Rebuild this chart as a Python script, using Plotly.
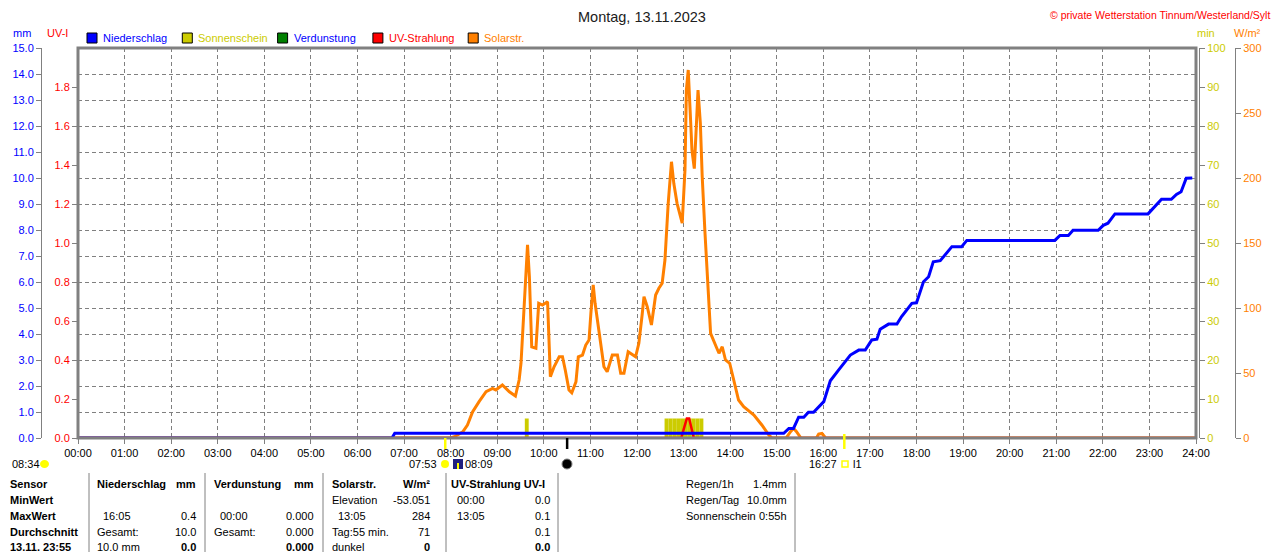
import plotly.graph_objects as go

FONT = "Liberation Sans, Arial, sans-serif"
GRAY = "#808080"
# the page puts the figure 8px in from the top-left corner of the window
OFF = 8
W, H = 1280 - OFF, 552 - OFF

# x axis: hours of the day
hour_ticks = list(range(25))
hour_labels = [f"{h:02d}:00" for h in hour_ticks]

# Niederschlag, cumulative mm
rain_h = [0, 6.74, 6.80, 15.15, 15.26, 15.36, 15.47, 15.58, 15.68, 15.79, 16.01, 16.15,
          16.33, 16.58, 16.76, 16.90, 17.04, 17.15, 17.22, 17.40, 17.58, 17.68, 17.90,
          18.00, 18.15, 18.26, 18.36, 18.51, 18.76, 18.97, 19.08, 20.97, 21.08, 21.26,
          21.36, 21.90, 22.01, 22.11, 22.26, 22.97, 23.26, 23.47, 23.58, 23.68, 23.79, 23.92]
rain_mm = [0, 0, 0.18, 0.18, 0.37, 0.37, 0.80, 0.80, 0.99, 0.99, 1.40, 2.20,
           2.62, 3.19, 3.38, 3.38, 3.77, 3.80, 4.18, 4.38, 4.38, 4.67, 5.18,
           5.20, 6.01, 6.20, 6.78, 6.82, 7.36, 7.36, 7.60, 7.60, 7.79, 7.79,
           7.99, 7.99, 8.18, 8.26, 8.62, 8.62, 9.18, 9.18, 9.37, 9.47, 9.99, 10.0]

# Solarstrahlung W/m2
solar_h = [0, 8.00, 8.08, 8.26, 8.36, 8.47, 8.61, 8.76, 8.90, 8.97, 9.11, 9.26, 9.39, 9.47,
           9.51, 9.58, 9.61, 9.65, 9.69, 9.74, 9.83, 9.89, 9.97, 10.08, 10.14, 10.22, 10.33,
           10.40, 10.46, 10.54, 10.60, 10.69, 10.74, 10.83, 10.90, 10.97, 11.01, 11.06, 11.10,
           11.19, 11.29, 11.36, 11.47, 11.58, 11.65, 11.72, 11.81, 11.97, 12.04, 12.11, 12.15,
           12.22, 12.31, 12.40, 12.47, 12.54, 12.60, 12.67, 12.74, 12.79, 12.86, 12.97, 13.03,
           13.06, 13.10, 13.14, 13.18, 13.23, 13.26, 13.31, 13.36, 13.40, 13.46, 13.51, 13.58,
           13.70, 13.76, 13.83, 13.90, 13.99, 14.08, 14.18, 14.29, 14.51, 14.68, 14.83, 14.90,
           15.20, 15.30, 15.36, 15.42, 15.52, 15.85, 15.90, 15.97, 16.05, 24]
solar_wm2 = [0, 0, 1, 4.8, 10, 20, 28, 35.6, 38.2, 36.9, 40.8, 35.6, 32.3, 44.6,
             57.5, 101, 123, 148.5, 124, 70, 69, 103.6, 102.3, 104.8, 47.2, 54.8, 62.5,
             62.5, 52.3, 36.9, 34.8, 43.3, 62.5, 63.8, 71.5, 75.4, 95.9, 117.7, 103.6,
             80.5, 54.8, 51, 63.8, 63.8, 49.8, 49.8, 66.4, 62.5, 72.8, 94.6, 108.7,
             101, 86.9, 110, 115.2, 119, 136.9, 180.5, 212.5, 195.9, 180.5, 165.2, 206.2,
             267.7, 283.1, 252.3, 221.3, 207.2, 229.2, 267.7, 242.1, 201, 157.5, 124.1, 80.5,
             70.2, 65.2, 70.2, 60, 57.5, 44.6, 29.2, 24.1, 17.7, 10, 2.3, 0,
             0, 5, 7.5, 5, 0, 0, 3, 3.5, 0, 0]

# UV-Index
uv_h = [0, 12.95, 13.02, 13.07, 13.12, 13.17, 13.22, 24]
uv_val = [0, 0, 0.06, 0.1, 0.1, 0.05, 0, 0]

# Verdunstung mm
evap_h = [0, 24]
evap_mm = [0, 0]

# Sonnenschein, minutes per 5-minute interval
sun_times = ["09:38", "12:38", "12:43", "12:48", "12:53", "12:58",
             "13:03", "13:08", "13:13", "13:18", "13:23"]
sun_min = [5, 5, 5, 5, 5, 5, 5, 5, 5, 5, 5]

mm_ticks = list(range(16))
uv_ticks = [0, 0.2, 0.4, 0.6, 0.8, 1.0, 1.2, 1.4, 1.6, 1.8]
min_ticks = [0, 10, 20, 30, 40, 50, 60, 70, 80, 90, 100]
wm2_ticks = [0, 50, 100, 150, 200, 250, 300]

legend_names = ["Niederschlag", "Sonnenschein", "Verdunstung", "UV-Strahlung", "Solarstr."]
legend_fill = ["#0000FF", "#CCCC00", "#008000", "#FF0000", "#FF8000"]
legend_text = ["#0000FF", "#CCCC00", "#0000FF", "#FF0000", "#FF8000"]

row_labels = ["Sensor", "MinWert", "MaxWert", "Durchschnitt", "13.11. 23:55"]
rain_col = [("Niederschlag", "mm"), ("", ""), ("16:05", "0.4"), ("Gesamt:", "10.0"), ("10.0 mm", "0.0")]
evap_col = [("Verdunstung", "mm"), ("", ""), ("00:00", "0.000"), ("Gesamt:", "0.000"), ("", "0.000")]
solar_col = [("Solarstr.", "W/m²"), ("Elevation", "-53.051"), ("13:05", "284"),
             ("Tag:55 min.", "71"), ("dunkel", "0")]
uv_col = [("UV-Strahlung UV-I", ""), ("00:00", "0.0"), ("13:05", "0.1"), ("", "0.1"), ("", "0.0")]
summary = [("Regen/1h", "1.4mm"), ("Regen/Tag", "10.0mm"), ("Sonnenschein", "0:55h")]


def px(x):
    # window pixel -> paper x
    return (x - OFF) / W


def py(y):
    # window pixel -> paper y
    return 1 - (y - OFF) / H


def hrs(t):
    h, m = t.split(":")
    return int(h) + int(m) / 60


fig = go.Figure()
fig.add_bar(x=[hrs(t) for t in sun_times], y=sun_min, yaxis="y", width=0.0833,
            marker=dict(color="#CCCC00", line=dict(width=0)))
fig.add_scatter(x=solar_h, y=solar_wm2, yaxis="y2", mode="lines",
                line=dict(color="#FF8000", width=3))
fig.add_scatter(x=uv_h, y=uv_val, yaxis="y3", mode="lines",
                line=dict(color="#FF0000", width=2.5))
fig.add_scatter(x=rain_h, y=rain_mm, yaxis="y4", mode="lines",
                line=dict(color="#0000FF", width=3))
fig.add_scatter(x=evap_h, y=evap_mm, yaxis="y4", mode="lines",
                line=dict(color="#008000", width=2))

dom = [py(438), py(48)]
common = dict(ticks="outside", ticklen=5, tickcolor=GRAY, showline=True, linecolor=GRAY,
              linewidth=1, zeroline=False, showgrid=False, automargin=False, fixedrange=True)

fig.update_layout(
    template="none",
    width=W, height=H,
    margin=dict(l=0, r=0, t=0, b=0),
    paper_bgcolor="white", plot_bgcolor="white",
    showlegend=False,
    font=dict(family=FONT, size=11, color="black"),
    xaxis=dict(domain=[px(78), px(1196)], range=[0, 24], anchor="y",
               tickvals=hour_ticks, ticktext=hour_labels,
               ticks="outside", ticklen=5, tickcolor=GRAY, showline=False, zeroline=False,
               showgrid=True, gridcolor=GRAY, gridwidth=1, griddash="4px,3px",
               automargin=False, fixedrange=True, tickfont=dict(color="black", size=11)),
    yaxis=dict(domain=dom, range=[0, 100], side="right", anchor="free", position=px(1199),
               tickvals=min_ticks, tickfont=dict(color="#CCCC00", size=11), **common),
    yaxis2=dict(domain=dom, overlaying="y", range=[0, 300], side="right", anchor="free",
                position=px(1235), tickvals=wm2_ticks,
                tickfont=dict(color="#FF8000", size=11), **common),
    yaxis3=dict(domain=dom, overlaying="y", range=[0, 2], side="left", anchor="x",
                tickvals=uv_ticks, tickformat=".1f",
                tickfont=dict(color="#FF0000", size=11), **common),
    yaxis4=dict(domain=dom, overlaying="y", range=[0, 15], side="left", anchor="free",
                position=px(41), tickvals=mm_ticks, tickformat=".1f",
                tickfont=dict(color="#0000FF", size=11),
                **{**common, "showgrid": True, "gridcolor": GRAY, "gridwidth": 1,
                   "griddash": "4px,3px"}),
)

# plot frame
fig.add_shape(type="rect", xref="paper", yref="paper", x0=px(78), x1=px(1196),
              y0=py(438), y1=py(48), line=dict(color=GRAY, width=3), layer="above")


def label(text, x, y, color="black", size=11, anchor="left", bold=False):
    fig.add_annotation(text=f"<b>{text}</b>" if bold else text, x=px(x), y=py(y),
                       xref="paper", yref="paper", xanchor=anchor, yanchor="middle",
                       showarrow=False, font=dict(family=FONT, size=size, color=color))


label("Montag, 13.11.2023", 642, 17, color="#202020", size=14.5, anchor="center")
label("© private Wetterstation Tinnum/Westerland/Sylt", 1272, 15, color="#FF0000",
      size=10.5, anchor="right")
label("mm", 22, 33, color="#0000FF", anchor="center")
label("UV-I", 57, 33, color="#FF0000", anchor="center")
label("min", 1206, 33, color="#CCCC00", anchor="center")
label("W/m²", 1247, 33, color="#FF8000", anchor="center")

# legend
for i, (name, fill, tcol) in enumerate(zip(legend_names, legend_fill, legend_text)):
    x0 = 87 + i * 95.3
    fig.add_shape(type="rect", xref="paper", yref="paper", x0=px(x0), x1=px(x0 + 10),
                  y0=py(43), y1=py(33), fillcolor=fill, line=dict(color="black", width=1))
    label(name, x0 + 14, 38, color=tcol)

# sunrise / sunset / moon markers below the time axis
for t, col, top in [("07:53", "#FFFF00", 438), ("10:30", "black", 438), ("16:27", "#FFFF00", 434)]:
    fig.add_shape(type="line", xref="x", yref="paper", x0=hrs(t), x1=hrs(t),
                  y0=py(top), y1=py(449), line=dict(color=col, width=2.5))
label("08:34", 10, 464)
fig.add_shape(type="circle", xref="paper", yref="paper", x0=px(40), x1=px(49),
              y0=py(468), y1=py(460), fillcolor="#FFFF00", line=dict(width=0))
label("07:53", 439, 464, anchor="right")
fig.add_shape(type="circle", xref="paper", yref="paper", x0=px(441), x1=px(449),
              y0=py(468), y1=py(460), fillcolor="#FFFF00", line=dict(width=0))
fig.add_shape(type="rect", xref="paper", yref="paper", x0=px(453), x1=px(463),
              y0=py(469), y1=py(459), fillcolor="#202080", line=dict(width=0))
fig.add_shape(type="rect", xref="paper", yref="paper", x0=px(457), x1=px(459),
              y0=py(469), y1=py(463), fillcolor="#FFFF00", line=dict(width=0))
label("08:09", 463, 464)
fig.add_shape(type="circle", xref="paper", yref="paper", x0=px(562), x1=px(572),
              y0=py(469), y1=py(459), fillcolor="black", line=dict(color=GRAY, width=1))
label("16:27", 839, 464, anchor="right")
fig.add_shape(type="rect", xref="paper", yref="paper", x0=px(842), x1=px(848),
              y0=py(467), y1=py(461), line=dict(color="#FFFF00", width=1.5))
label("l1", 851, 464)

# table
row_y = [484, 500, 516, 532, 547]
for i, t in enumerate(row_labels):
    label(t, 8, row_y[i], bold=True)

cols = [(rain_col, 95, 198), (evap_col, 212, 316), (solar_col, 330, 432), (uv_col, 449, 552)]
for col, xl, xr in cols:
    for i, (left, right) in enumerate(col):
        head = i == 0
        last = i == len(col) - 1
        indent = 6 if (len(left) == 5 and left[2] == ":") else 0
        if left:
            label(left, xl + indent, row_y[i], bold=head)
        if right:
            label(right, xr, row_y[i], anchor="right", bold=head or last)

for i, (left, right) in enumerate(summary):
    label(left, 684, row_y[i])
    label(right, 789, row_y[i], anchor="right")

for xs in [89, 205, 323, 446, 558, 795]:
    fig.add_shape(type="line", xref="paper", yref="paper", x0=px(xs), x1=px(xs),
                  y0=py(473), y1=py(552), line=dict(color=GRAY, width=1))

fig.write_html("out.html")
